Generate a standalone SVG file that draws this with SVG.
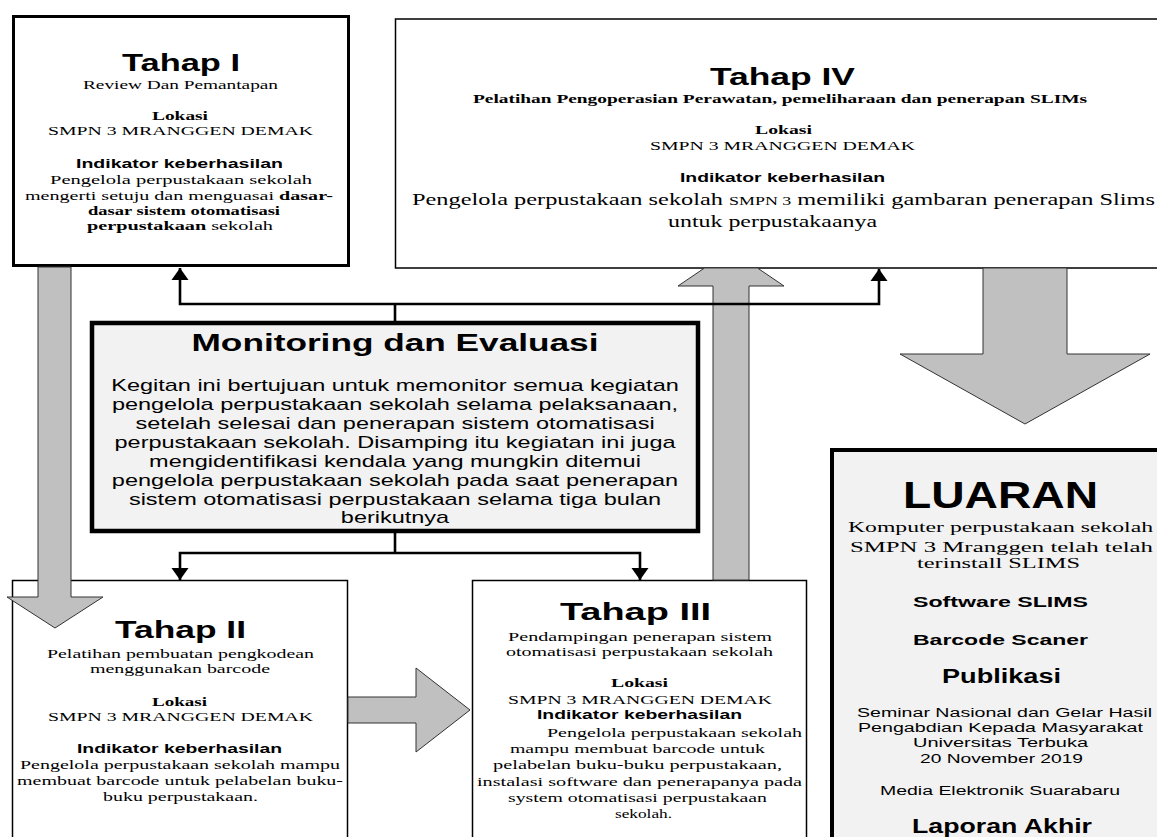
<svg xmlns="http://www.w3.org/2000/svg" width="1157" height="837" viewBox="0 0 1157 837">
<defs>
<style>
.sans{font-family:"Liberation Sans",Arial,sans-serif;fill:#000}
.serif{font-family:"Liberation Serif","Times New Roman",serif;fill:#000}
.b{font-weight:bold}
.box{fill:#fff;stroke:#000}
.grey{fill:#f2f2f2;stroke:#000}
.blk{fill:#c0c0c0;stroke:#333;stroke-width:1}
.con{fill:none;stroke:#000;stroke-width:2.6}
</style>
<marker id="ah" markerUnits="userSpaceOnUse" markerWidth="13" markerHeight="18" refX="12" refY="8.5" orient="auto" viewBox="0 0 13 17">
<path d="M0,0 L12,8.5 L0,17 Z" fill="#000"/>
</marker>
</defs>
<rect width="1157" height="837" fill="#fff"/>

<g id="tahap1">
<rect class="box" x="13.5" y="16.5" width="335" height="249" stroke-width="3"/>
<text class="sans b" x="122" y="71" font-size="23" textLength="118" lengthAdjust="spacingAndGlyphs">Tahap I</text>
<text class="serif" x="83" y="89" font-size="13" textLength="195" lengthAdjust="spacingAndGlyphs">Review Dan Pemantapan</text>
<text class="serif b" x="152" y="120" font-size="13" textLength="56" lengthAdjust="spacingAndGlyphs">Lokasi</text>
<text class="serif" x="48" y="135" font-size="13" textLength="265" lengthAdjust="spacingAndGlyphs">SMPN 3 MRANGGEN DEMAK</text>
<text class="sans b" x="76" y="167.5" font-size="12" textLength="207" lengthAdjust="spacingAndGlyphs">Indikator keberhasilan</text>
<text class="serif" x="50" y="184" font-size="13" textLength="262" lengthAdjust="spacingAndGlyphs">Pengelola perpustakaan  sekolah</text>
<text class="serif" x="25" y="200" font-size="13" textLength="308" lengthAdjust="spacingAndGlyphs">mengerti  setuju dan menguasai <tspan class="b">dasar-</tspan></text>
<text class="serif b" x="88" y="215" font-size="13" textLength="192" lengthAdjust="spacingAndGlyphs">dasar sistem otomatisasi</text>
<text class="serif" x="87" y="230" font-size="13" textLength="186" lengthAdjust="spacingAndGlyphs"><tspan class="b">perpustakaan</tspan>  sekolah</text>
</g>

<g id="tahap2">
<rect class="box" x="12.5" y="580.5" width="335" height="300" stroke-width="1.5"/>
<text class="sans b" x="115" y="638" font-size="23" textLength="131" lengthAdjust="spacingAndGlyphs">Tahap II</text>
<text class="serif" x="47" y="658" font-size="13" textLength="267" lengthAdjust="spacingAndGlyphs">Pelatihan pembuatan pengkodean</text>
<text class="serif" x="90" y="673" font-size="13" textLength="180" lengthAdjust="spacingAndGlyphs">menggunakan  barcode</text>
<text class="serif b" x="152" y="706" font-size="13" textLength="55" lengthAdjust="spacingAndGlyphs">Lokasi</text>
<text class="serif" x="48" y="721" font-size="13" textLength="265" lengthAdjust="spacingAndGlyphs">SMPN 3 MRANGGEN DEMAK</text>
<text class="sans b" x="77" y="753" font-size="12" textLength="205" lengthAdjust="spacingAndGlyphs">Indikator keberhasilan</text>
<text class="serif" x="20" y="769" font-size="13" textLength="320" lengthAdjust="spacingAndGlyphs">Pengelola perpustakaan sekolah mampu</text>
<text class="serif" x="17" y="785" font-size="13" textLength="326" lengthAdjust="spacingAndGlyphs">membuat barcode untuk pelabelan buku-</text>
<text class="serif" x="103" y="801" font-size="13" textLength="155" lengthAdjust="spacingAndGlyphs">buku perpustakaan.</text>
</g>

<g id="tahap3">
<rect class="box" x="472.5" y="580.5" width="334" height="300" stroke-width="1.5"/>
<text class="sans b" x="560" y="620" font-size="24" textLength="151" lengthAdjust="spacingAndGlyphs">Tahap III</text>
<text class="serif" x="508" y="641" font-size="13" textLength="264" lengthAdjust="spacingAndGlyphs">Pendampingan penerapan sistem</text>
<text class="serif" x="506" y="656" font-size="13" textLength="267" lengthAdjust="spacingAndGlyphs">otomatisasi perpustakaan sekolah</text>
<text class="serif b" x="611" y="687" font-size="13" textLength="57" lengthAdjust="spacingAndGlyphs">Lokasi</text>
<text class="serif" x="508" y="704" font-size="13" textLength="264" lengthAdjust="spacingAndGlyphs">SMPN 3 MRANGGEN DEMAK</text>
<text class="sans b" x="537" y="719" font-size="12" textLength="205" lengthAdjust="spacingAndGlyphs">Indikator keberhasilan</text>
<text class="serif" x="547" y="737" font-size="13" textLength="255" lengthAdjust="spacingAndGlyphs">Pengelola perpustakaan sekolah</text>
<text class="serif" x="510" y="753" font-size="13" textLength="255" lengthAdjust="spacingAndGlyphs">mampu membuat barcode untuk</text>
<text class="serif" x="493" y="769" font-size="13" textLength="289" lengthAdjust="spacingAndGlyphs">pelabelan buku-buku perpustakaan,</text>
<text class="serif" x="477" y="786" font-size="13" textLength="325" lengthAdjust="spacingAndGlyphs">instalasi software dan penerapanya pada</text>
<text class="serif" x="508" y="802" font-size="13" textLength="259" lengthAdjust="spacingAndGlyphs">system otomatisasi perpustakaan</text>
<text class="serif" x="615" y="818" font-size="13" textLength="57" lengthAdjust="spacingAndGlyphs">sekolah.</text>
</g>

<g id="tahap4">
<rect class="box" x="395.5" y="19" width="800" height="249" stroke-width="1.5"/>
<text class="sans b" x="710" y="85" font-size="24" textLength="145" lengthAdjust="spacingAndGlyphs">Tahap IV</text>
<text class="serif b" x="473" y="103" font-size="12.5" textLength="614" lengthAdjust="spacingAndGlyphs">Pelatihan Pengoperasian Perawatan, pemeliharaan dan penerapan SLIMs</text>
<text class="serif b" x="755" y="134" font-size="13" textLength="57" lengthAdjust="spacingAndGlyphs">Lokasi</text>
<text class="serif" x="650" y="150" font-size="13" textLength="265" lengthAdjust="spacingAndGlyphs">SMPN 3 MRANGGEN DEMAK</text>
<text class="sans b" x="680" y="182" font-size="12" textLength="205" lengthAdjust="spacingAndGlyphs">Indikator keberhasilan</text>
<text class="serif" x="412" y="205" font-size="17" textLength="743" lengthAdjust="spacingAndGlyphs">Pengelola perpustakaan sekolah <tspan font-size="12.5">SMPN 3</tspan>  memiliki gambaran penerapan Slims</text>
<text class="serif" x="668" y="227" font-size="17" textLength="209" lengthAdjust="spacingAndGlyphs">untuk perpustakaanya</text>
</g>

<g id="monev">
<rect class="grey" x="92" y="323" width="606" height="208" stroke-width="4.5"/>
<g transform="translate(395 0) scale(1.468 1)">
<text class="sans b" x="0" y="351" font-size="24" text-anchor="middle">Monitoring dan Evaluasi</text>
<g class="sans" font-size="16" text-anchor="middle">
<text x="0" y="391">Kegitan ini bertujuan untuk memonitor semua kegiatan</text>
<text x="0" y="410">pengelola perpustakaan sekolah selama pelaksanaan,</text>
<text x="0" y="429">setelah selesai dan penerapan sistem otomatisasi</text>
<text x="0" y="448">perpustakaan sekolah. Disamping itu kegiatan ini juga</text>
<text x="0" y="467">mengidentifikasi kendala yang mungkin ditemui</text>
<text x="0" y="486">pengelola perpustakaan sekolah pada saat  penerapan</text>
<text x="0" y="505">sistem otomatisasi perpustakaan selama tiga bulan</text>
<text x="0" y="523">berikutnya</text>
</g>
</g>
</g>

<g id="luaran">
<rect class="grey" x="832" y="450" width="360" height="420" stroke-width="4"/>
<text class="sans b" x="903" y="508" font-size="37" textLength="195" lengthAdjust="spacingAndGlyphs">LUARAN</text>
<text class="serif" x="848" y="532" font-size="15.5" textLength="305" lengthAdjust="spacingAndGlyphs">Komputer perpustakaan sekolah</text>
<text class="serif" x="850" y="552" font-size="15.5" textLength="303" lengthAdjust="spacingAndGlyphs">SMPN 3 Mranggen  telah  telah</text>
<text class="serif" x="917" y="568" font-size="15.5" textLength="163" lengthAdjust="spacingAndGlyphs">terinstall SLIMS</text>
<text class="sans b" x="913" y="607" font-size="14" textLength="175" lengthAdjust="spacingAndGlyphs">Software SLIMS</text>
<text class="sans b" x="913" y="645" font-size="14" textLength="175" lengthAdjust="spacingAndGlyphs">Barcode Scaner</text>
<text class="sans b" x="942" y="683" font-size="20" textLength="119" lengthAdjust="spacingAndGlyphs">Publikasi</text>
<text class="sans" x="857" y="717" font-size="12.5" textLength="295" lengthAdjust="spacingAndGlyphs">Seminar Nasional dan Gelar Hasil</text>
<text class="sans" x="858" y="732" font-size="12.5" textLength="285" lengthAdjust="spacingAndGlyphs">Pengabdian Kepada Masyarakat</text>
<text class="sans" x="913" y="747" font-size="12.5" textLength="175" lengthAdjust="spacingAndGlyphs">Universitas Terbuka</text>
<text class="sans" x="920" y="763" font-size="12.5" textLength="163" lengthAdjust="spacingAndGlyphs">20 November 2019</text>
<text class="sans" x="880" y="795" font-size="12.5" textLength="240" lengthAdjust="spacingAndGlyphs">Media Elektronik Suarabaru</text>
<text class="sans b" x="912" y="833" font-size="21" textLength="180" lengthAdjust="spacingAndGlyphs">Laporan Akhir</text>
</g>

<g id="connectors">
<polygon class="blk" points="38,267 38,597 7,597 55,628 103,597 71,597 71,267"/>
<polygon class="blk" points="348,697 416,697 416,668 470,710 416,752 416,723 348,723"/>
<polygon class="blk" points="713,580 713,286 678,286 704.5,268 757.5,268 784,286 749,286 749,580"/>
<polygon class="blk" points="983,268 983,354 900,354 1025,424 1150,354 1067,354 1067,268"/>
<path class="con" d="M395,321 V304"/>
<path class="con" d="M395,304 H180 V268" marker-end="url(#ah)"/>
<path class="con" d="M395,304 H879 V269" marker-end="url(#ah)"/>
<path class="con" d="M395,533 V553"/>
<path class="con" d="M395,553 H180 V580" marker-end="url(#ah)"/>
<path class="con" d="M395,553 H640 V580" marker-end="url(#ah)"/>
</g>
</svg>
